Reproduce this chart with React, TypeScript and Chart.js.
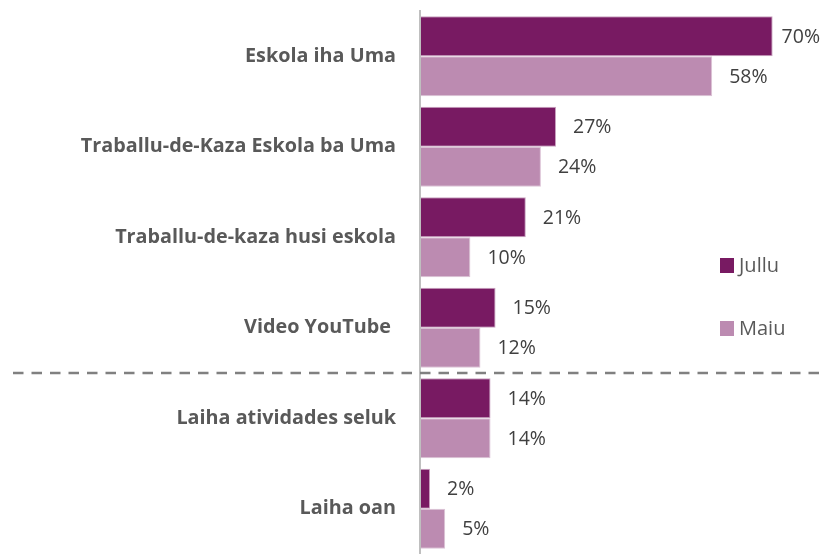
import React, { useEffect, useRef } from "react";
import { Chart, registerables } from "chart.js";

Chart.register(...registerables);

const categories = [
  "Eskola iha Uma",
  "Traballu-de-Kaza Eskola ba Uma",
  "Traballu-de-kaza husi eskola",
  "Video YouTube ",
  "Laiha atividades seluk",
  "Laiha oan",
];
const jullu = [70, 27, 21, 15, 14, 2];
const maiu = [58, 24, 10, 12, 14, 5];
const seriesNames = ["Jullu", "Maiu"];
const colors = ["#781A62", "#BC8BB1"];
const borders = ["#C9A3C0", "#DCC3D6"];

const FONT = "'Open Sans', 'DejaVu Sans', sans-serif";

const dataLabelPlugin = {
  id: "dataLabels",
  afterDatasetsDraw(chart: any) {
    const ctx = chart.ctx;
    ctx.save();
    ctx.font = `19.5px ${FONT}`;
    ctx.fillStyle = "#404040";
    ctx.textBaseline = "middle";
    ctx.textAlign = "left";
    chart.data.datasets.forEach((ds: any, di: number) => {
      const meta = chart.getDatasetMeta(di);
      meta.data.forEach((bar: any, i: number) => {
        const txt = ds.data[i] + "%";
        const w = ctx.measureText(txt).width;
        let x = bar.x + 17;
        if (x + w > chart.width - 2) x = chart.width - 2 - w;
        ctx.fillText(txt, x, bar.y + 1);
      });
    });
    ctx.restore();
  },
};

const extrasPlugin = {
  id: "extras",
  afterDraw(chart: any) {
    const ctx = chart.ctx;
    const y = chart.scales.y;
    const yy = (y.getPixelForValue(3) + y.getPixelForValue(4)) / 2;
    ctx.save();
    ctx.strokeStyle = "#808080";
    ctx.lineWidth = 2.5;
    ctx.setLineDash([10.5, 8]);
    ctx.beginPath();
    ctx.moveTo(13, yy);
    ctx.lineTo(chart.width, yy);
    ctx.stroke();
    ctx.setLineDash([]);
    // legend
    const items = [
      { name: seriesNames[0], color: colors[0], y: 265 },
      { name: seriesNames[1], color: colors[1], y: 328 },
    ];
    ctx.font = `20px ${FONT}`;
    ctx.textBaseline = "middle";
    ctx.textAlign = "left";
    items.forEach((it) => {
      ctx.fillStyle = it.color;
      ctx.fillRect(720, it.y - 7, 14, 15);
      ctx.fillStyle = "#595959";
      ctx.fillText(it.name, 739, it.y + 1);
    });
    ctx.restore();
  },
};

export default function App() {
  const ref = useRef<HTMLCanvasElement>(null);
  useEffect(() => {
    document.body.style.margin = "0";
    const chart = new Chart(ref.current!, {
      type: "bar",
      data: {
        labels: categories,
        datasets: [
          {
            label: seriesNames[0],
            data: jullu,
            backgroundColor: colors[0],
            borderColor: borders[0],
            borderWidth: 1,
            categoryPercentage: 0.884,
            barPercentage: 1,
          },
          {
            label: seriesNames[1],
            data: maiu,
            backgroundColor: colors[1],
            borderColor: borders[1],
            borderWidth: 1,
            categoryPercentage: 0.884,
            barPercentage: 1,
          },
        ],
      },
      options: {
        indexAxis: "y",
        animation: false,
        responsive: false,
        maintainAspectRatio: false,
        layout: { padding: { top: 11, bottom: 0, right: 4, left: 0 } },
        plugins: { legend: { display: false }, tooltip: { enabled: false } },
        scales: {
          x: { display: false, min: 0, max: 79 },
          y: {
            afterFit: (s: any) => {
              s.width = 420;
              s.paddingTop = 0;
              s.paddingBottom = 0;
            },
            grid: { display: false, drawTicks: false },
            border: { display: true, color: "#BFBFBF", width: 2, z: 1 },
            ticks: {
              padding: 24,
              color: "#595959",
              font: { family: FONT, size: 19.8, weight: "bold" },
            },
          },
        },
      },
      plugins: [dataLabelPlugin, extrasPlugin],
    });
    return () => chart.destroy();
  }, []);
  return (
    <div style={{ position: "absolute", left: 0, top: 0, width: 822, height: 554 }}>
      <canvas ref={ref} width={822} height={554} style={{ display: "block" }} />
    </div>
  );
}
